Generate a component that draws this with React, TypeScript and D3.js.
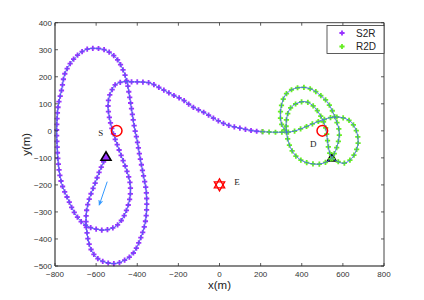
import React, { useEffect, useRef, useState } from "react";
import * as d3 from "d3";

// S2R trajectory waypoints (x, y in metres)
const s2rX = [-552, -581, -605, -630, -646, -649, -644, -635, -615, -581, -533, -500, -460, -420, -387, -362, -354, -357, -372, -387, -401, -413, -427, -440, -452, -476, -508, -557, -597, -639, -678, -719, -751, -768, -785, -792, -790, -784, -768, -735, -703, -662, -614, -557, -508, -476, -452, -435, -435, -452, -476, -500, -517, -533, -542, -537, -523, -508, -474, -435, -387, -338, -289, -233, -177, -129, -70, -14, 41, 100, 163, 210];
const s2rY = [-96, -145, -194, -244, -293, -342, -379, -416, -453, -478, -490, -490, -478, -453, -404, -342, -281, -219, -157, -96, -34, 10, 77, 139, 188, 237, 274, 299, 305, 303, 288, 256, 214, 151, 89, 3, -50, -120, -194, -256, -306, -343, -361, -367, -355, -330, -293, -244, -194, -145, -96, -46, -9, 40, 88, 125, 151, 170, 181, 181, 181, 177, 158, 135, 114, 88, 66, 40, 21, 10, 0, -3];

// R2D trajectory waypoints
const r2dX = [210, 260, 300, 353, 401, 450, 500, 547, 590, 628, 652, 669, 674, 659, 635, 604, 571, 546, 532, 523, 515, 498, 479, 450, 417, 377, 344, 328, 324, 330, 345, 370, 405, 450, 485, 520, 546, 565, 578, 583, 578, 563, 547, 523, 490, 450, 401, 353, 320, 304, 296, 300, 315, 332];
const r2dY = [-3, -5, -5, -3, 9, 25, 40, 50, 50, 40, 21, -9, -46, -83, -108, -120, -112, -100, -70, -22, 15, 46, 71, 96, 108, 102, 83, 52, 15, -25, -62, -92, -112, -122, -123, -115, -100, -72, -40, -10, 15, 46, 77, 108, 132, 153, 161, 153, 132, 102, 65, 30, 5, -8];

const xTicks = [-800, -600, -400, -200, 0, 200, 400, 600, 800];
const yTicks = [-500, -400, -300, -200, -100, 0, 100, 200, 300, 400];
const seriesNames = ["S2R", "R2D"];

const nodeNames = ["S", "D"];
const nodeX = [-500, 500];
const nodeY = [0, 0];
const nodeLabelX = [-578, 456];
const nodeLabelY = [-9, -49];
const eveX = [0];
const eveY = [-200];
const eveLabel = ["E"];
const eveLabelX = [85];
const eveLabelY = [-191];
const startX = [-552, 546];
const startY = [-96, -100];
const arrowX = [-546, -585];
const arrowY = [-188, -275];

const W = 424;
const H = 300;
const LINE = "#4466ee";
const PURPLE = "#9933ff";
const GREEN = "#66ee22";

const x = d3.scaleLinear().domain([-800, 800]).range([55, 384]);
const y = d3.scaleLinear().domain([-500, 400]).range([266, 22.7]);

const lineGen = d3
  .line<[number, number]>()
  .x((d) => x(d[0]))
  .y((d) => y(d[1]))
  .curve(d3.curveCatmullRom.alpha(0.5));

const s2rPts: [number, number][] = s2rX.map((v, i) => [v, s2rY[i]]);
const r2dPts: [number, number][] = r2dX.map((v, i) => [v, r2dY[i]]);
const s2rD = lineGen(s2rPts) || "";
const r2dD = lineGen(r2dPts) || "";

const plus = "M-2.6,0H2.6M0,-2.6V2.6";

function sample(el: SVGPathElement | null, step: number) {
  if (!el) return [] as { x: number; y: number }[];
  const L = el.getTotalLength();
  const out: { x: number; y: number }[] = [];
  for (let l = 0; l <= L; l += step) {
    const p = el.getPointAtLength(l);
    out.push({ x: p.x, y: p.y });
  }
  return out;
}

function hexagram(cx: number, cy: number, r: number) {
  const tri = (rot: number) =>
    [0, 1, 2]
      .map((k) => {
        const a = rot + (k * 2 * Math.PI) / 3;
        return `${cx + r * Math.sin(a)},${cy - r * Math.cos(a)}`;
      })
      .join(" ");
  return [tri(0), tri(Math.PI)];
}

function triPts(cx: number, cy: number, s: number) {
  return `${cx},${cy - s} ${cx - s},${cy + s * 0.7} ${cx + s},${cy + s * 0.7}`;
}

export default function App() {
  const pRef = useRef<SVGPathElement>(null);
  const gRef = useRef<SVGPathElement>(null);
  const [pm, setPm] = useState<{ x: number; y: number }[]>([]);
  const [gm, setGm] = useState<{ x: number; y: number }[]>([]);

  useEffect(() => {
    setPm(sample(pRef.current, 5.7));
    setGm(sample(gRef.current, 6.4));
  }, []);

  const x0 = x(-800);
  const x1 = x(800);
  const y0 = y(-500);
  const y1 = y(400);
  const tickFont = "'Liberation Sans', Arial, sans-serif";

  const arrowAng = Math.atan2(y(arrowY[1]) - y(arrowY[0]), x(arrowX[1]) - x(arrowX[0]));
  const ah = 5;
  const ax = x(arrowX[1]);
  const ay = y(arrowY[1]);

  return (
    <svg
      width={W}
      height={H}
      style={{ position: "absolute", left: 0, top: 0, background: "#fff" }}
    >
      <rect x={0} y={0} width={W} height={H} fill="#fff" />

      {/* second start triangle, under the trajectory */}
      <polygon
        points={triPts(x(startX[1]), y(startY[1]), 4.5)}
        fill="#223322"
        stroke="#000"
        strokeWidth={1.4}
      />

      {/* trajectories */}
      <path ref={pRef} d={s2rD} fill="none" stroke="none" />
      <path ref={gRef} d={r2dD} fill="none" stroke="none" />
      <g stroke={PURPLE} strokeWidth={1.8} fill="none">
        {pm.map((p, i) => (
          <path key={i} d={plus} transform={`translate(${p.x},${p.y})`} />
        ))}
      </g>
      <g stroke={GREEN} strokeWidth={1.8} fill="none">
        {gm.map((p, i) => (
          <path key={i} d={plus} transform={`translate(${p.x},${p.y})`} />
        ))}
      </g>
      <path d={s2rD} fill="none" stroke={LINE} strokeWidth={0.9} />
      <path d={r2dD} fill="none" stroke={LINE} strokeWidth={0.9} />

      {/* first start triangle */}
      <polygon
        points={triPts(x(startX[0]), y(startY[0]), 5)}
        fill={PURPLE}
        stroke="#000"
        strokeWidth={1.6}
      />

      {/* S and D circles */}
      {nodeNames.map((n, i) => (
        <g key={n}>
          <circle cx={x(nodeX[i])} cy={y(nodeY[i])} r={5.3} fill="none" stroke="#ff0000" strokeWidth={1.5} />
          <text
            x={x(nodeLabelX[i])}
            y={y(nodeLabelY[i])}
            fontFamily="'Liberation Serif', 'Times New Roman', serif"
            fontSize={9}
            textAnchor="middle"
            dominantBaseline="central"
            fill="#222"
          >
            {n}
          </text>
        </g>
      ))}

      {/* Eve hexagram */}
      {eveX.map((ex, i) => {
        const [t1, t2] = hexagram(x(ex), y(eveY[i]), 6);
        return (
          <g key={i}>
            <polygon points={t1} fill="none" stroke="#ff0000" strokeWidth={1.3} />
            <polygon points={t2} fill="none" stroke="#ff0000" strokeWidth={1.3} />
            <text
              x={x(eveLabelX[i])}
              y={y(eveLabelY[i])}
              fontFamily="'Liberation Serif', 'Times New Roman', serif"
              fontSize={9}
              textAnchor="middle"
              dominantBaseline="central"
              fill="#222"
            >
              {eveLabel[i]}
            </text>
          </g>
        );
      })}

      {/* direction arrow */}
      <line
        x1={x(arrowX[0])}
        y1={y(arrowY[0])}
        x2={ax}
        y2={ay}
        stroke="#3399ff"
        strokeWidth={1}
      />
      <path
        d={`M${ax},${ay} L${ax - ah * Math.cos(arrowAng - 0.4)},${ay - ah * Math.sin(arrowAng - 0.4)} L${ax - ah * 0.6 * Math.cos(arrowAng)},${ay - ah * 0.6 * Math.sin(arrowAng)} L${ax - ah * Math.cos(arrowAng + 0.4)},${ay - ah * Math.sin(arrowAng + 0.4)} Z`}
        fill="#3399ff"
        stroke="#3399ff"
        strokeWidth={0.6}
      />

      {/* axes frame */}
      <line x1={x0} y1={y1} x2={x1} y2={y1} stroke="#444" strokeWidth={1} />
      <line x1={x1} y1={y1} x2={x1} y2={y0} stroke="#444" strokeWidth={1} />
      <line x1={x0} y1={y0} x2={x1} y2={y0} stroke="#111" strokeWidth={1.2} />
      <line x1={x0} y1={y1} x2={x0} y2={y0} stroke="#555" strokeWidth={1.4} />

      {/* ticks */}
      {xTicks.map((t) => (
        <g key={"x" + t}>
          <line x1={x(t)} x2={x(t)} y1={y0} y2={y0 - 3} stroke="#333" strokeWidth={0.8} />
          <line x1={x(t)} x2={x(t)} y1={y1} y2={y1 + 3} stroke="#333" strokeWidth={0.8} />
          <text
            x={x(t)}
            y={y0 + 10.5}
            fontFamily={tickFont}
            fontSize={8}
            textAnchor="middle"
            fill="#333"
          >
            {t < 0 ? "\u2212" + Math.abs(t) : String(t)}
          </text>
        </g>
      ))}
      {yTicks.map((t) => (
        <g key={"y" + t}>
          <line x1={x0} x2={x0 + 3} y1={y(t)} y2={y(t)} stroke="#333" strokeWidth={0.8} />
          <line x1={x1} x2={x1 - 3} y1={y(t)} y2={y(t)} stroke="#333" strokeWidth={0.8} />
          <text
            x={x0 - 3}
            y={y(t) + 3}
            fontFamily={tickFont}
            fontSize={8}
            textAnchor="end"
            fill="#333"
          >
            {t < 0 ? "\u2212" + Math.abs(t) : String(t)}
          </text>
        </g>
      ))}

      {/* axis labels */}
      <text
        x={(x0 + x1) / 2}
        y={289}
        fontFamily={tickFont}
        fontSize={11.5}
        textAnchor="middle"
        fill="#222"
      >
        x(m)
      </text>
      <text
        transform={`translate(30,${(y0 + y1) / 2}) rotate(-90)`}
        fontFamily={tickFont}
        fontSize={11.5}
        textAnchor="middle"
        fill="#222"
      >
        y(m)
      </text>

      {/* legend */}
      <g>
        <rect x={327} y={25.5} width={57} height={28} fill="#fff" stroke="#333" strokeWidth={0.8} />
        {seriesNames.map((n, i) => (
          <g key={n}>
            <path
              d={plus}
              transform={`translate(342,${33 + i * 13.5})`}
              stroke={i === 0 ? PURPLE : GREEN}
              strokeWidth={1.8}
              fill="none"
            />
            <text
              x={356}
              y={36.5 + i * 13.5}
              fontFamily={tickFont}
              fontSize={10}
              fill="#222"
            >
              {n}
            </text>
          </g>
        ))}
      </g>
    </svg>
  );
}
